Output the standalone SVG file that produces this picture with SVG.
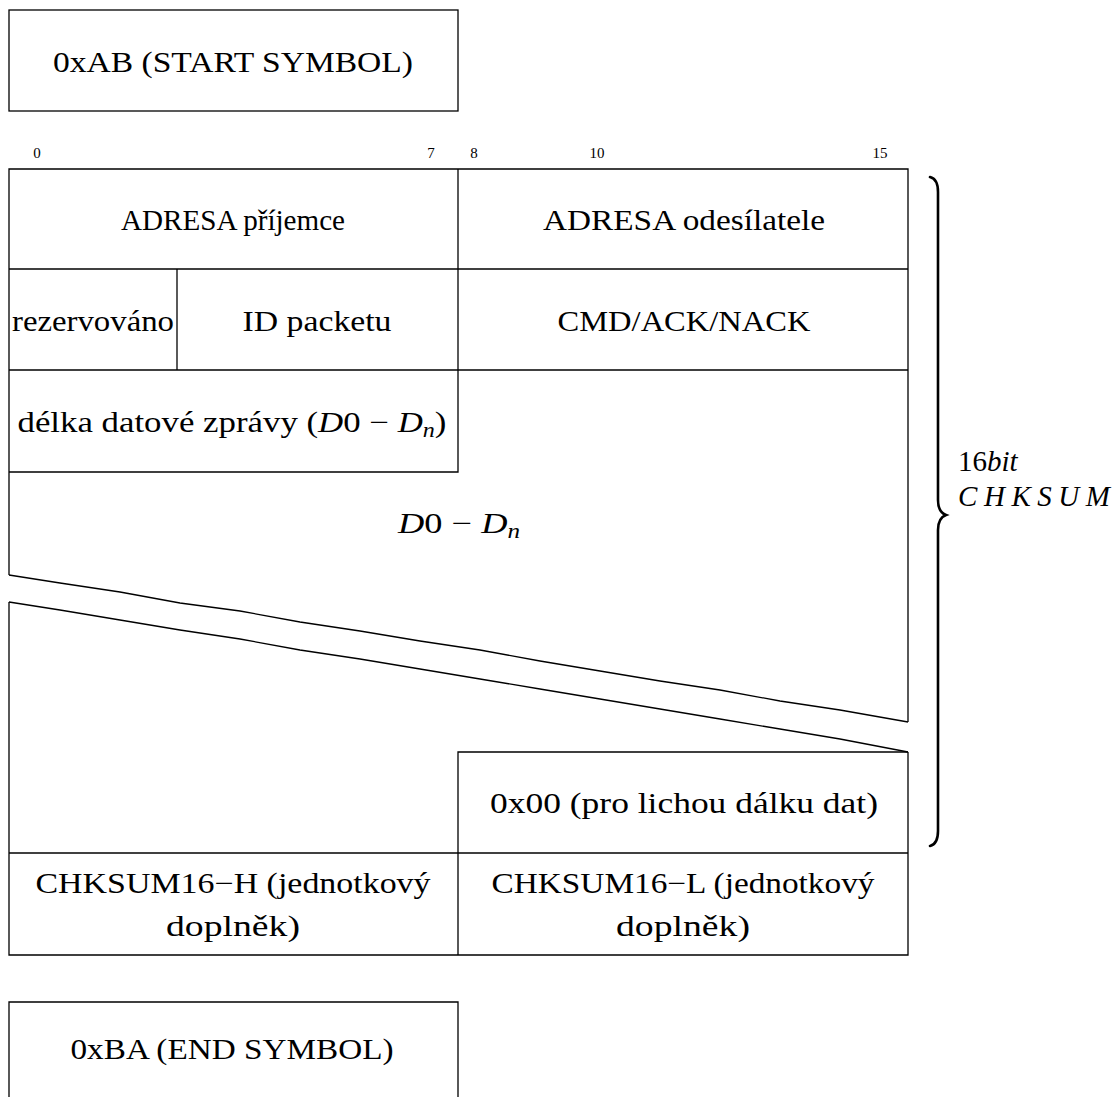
<svg xmlns="http://www.w3.org/2000/svg" width="1116" height="1097" viewBox="0 0 1116 1097" font-family="'Liberation Serif', 'Times New Roman', serif">
  <style>
    .ln { fill: none; stroke: #000; stroke-width: 1.3; }
    .t { font-family: 'Liberation Serif', 'Times New Roman', serif; font-size: 29px; fill: #000; text-anchor: middle; }
    .bit { font-family: 'Liberation Serif', 'Times New Roman', serif; font-size: 15px; fill: #000; text-anchor: middle; }
    .side { font-family: 'Liberation Serif', 'Times New Roman', serif; font-size: 29px; fill: #000; }
    .it { font-style: italic; }
    .brace { fill: none; stroke: #000; stroke-width: 2.6; stroke-linecap: round; }
  </style>
  <rect width="1116" height="1097" fill="#fff"/>

  <!-- start symbol -->
  <g id="start">
    <rect class="ln" x="9" y="10" width="449" height="101"/>
    <text class="t" x="233" y="72" textLength="360" lengthAdjust="spacingAndGlyphs">0xAB (START SYMBOL)</text>
  </g>

  <!-- bit positions -->
  <g id="bits">
    <text class="bit" x="37" y="158">0</text>
    <text class="bit" x="431" y="158">7</text>
    <text class="bit" x="474" y="158">8</text>
    <text class="bit" x="597" y="158">10</text>
    <text class="bit" x="880" y="158">15</text>
  </g>

  <!-- frame outline with cut -->
  <g id="frame">
    <path class="ln" d="M9,575 L9,169 L908,169 L908,722"/>
    <path class="ln" d="M9,575 L60,583 L120,592 L180,603 L240,611 L300,622 L360,631 L420,641 L480,650 L540,661 L600,671 L660,681 L720,690 L780,701 L840,710 L908,722"/>
    <path class="ln" d="M9,602 L60,610 L120,620 L180,630 L240,639 L300,650 L360,659 L420,669 L480,679 L540,689 L600,699 L660,709 L720,719 L780,729 L840,739 L908,752"/>
    <path class="ln" d="M9,602 L9,955 L908,955 L908,752"/>
  </g>

  <g id="addr-dst">
    <line class="ln" x1="9" y1="269" x2="458" y2="269"/>
    <text class="t" x="233" y="230" textLength="224" lengthAdjust="spacingAndGlyphs">ADRESA příjemce</text>
  </g>
  <g id="addr-src">
    <line class="ln" x1="458" y1="169" x2="458" y2="370"/>
    <line class="ln" x1="458" y1="269" x2="908" y2="269"/>
    <text class="t" x="684" y="230" textLength="282" lengthAdjust="spacingAndGlyphs">ADRESA odesílatele</text>
  </g>
  <g id="reserved">
    <line class="ln" x1="177" y1="269" x2="177" y2="370"/>
    <text class="t" x="93" y="331" textLength="162" lengthAdjust="spacingAndGlyphs">rezervováno</text>
  </g>
  <g id="packet-id">
    <text class="t" x="317" y="331" textLength="149" lengthAdjust="spacingAndGlyphs">ID packetu</text>
  </g>
  <g id="cmd">
    <line class="ln" x1="9" y1="370" x2="908" y2="370"/>
    <text class="t" x="684" y="331" textLength="253" lengthAdjust="spacingAndGlyphs">CMD/ACK/NACK</text>
  </g>
  <g id="length">
    <path class="ln" d="M458,370 L458,472 L9,472"/>
    <text class="t" x="232" y="432" textLength="429" lengthAdjust="spacingAndGlyphs">délka datové zprávy (<tspan class="it">D</tspan>0 − <tspan class="it">D</tspan><tspan class="it" font-size="20" dy="5">n</tspan><tspan dy="-5">)</tspan></text>
  </g>
  <g id="data">
    <text class="t" x="459" y="533" textLength="122" lengthAdjust="spacingAndGlyphs"><tspan class="it">D</tspan>0 − <tspan class="it">D</tspan><tspan class="it" font-size="20" dy="5">n</tspan></text>
  </g>
  <g id="padding">
    <path class="ln" d="M458,955 L458,752 L908,752"/>
    <line class="ln" x1="9" y1="853" x2="908" y2="853"/>
    <text class="t" x="684" y="813" textLength="388" lengthAdjust="spacingAndGlyphs">0x00 (pro lichou dálku dat)</text>
  </g>
  <g id="chksum-h">
    <text class="t" x="233" y="893" textLength="395" lengthAdjust="spacingAndGlyphs">CHKSUM16−H (jednotkový</text>
    <text class="t" x="233" y="936" textLength="134" lengthAdjust="spacingAndGlyphs">doplněk)</text>
  </g>
  <g id="chksum-l">
    <text class="t" x="683" y="893" textLength="383" lengthAdjust="spacingAndGlyphs">CHKSUM16−L (jednotkový</text>
    <text class="t" x="683" y="936" textLength="134" lengthAdjust="spacingAndGlyphs">doplněk)</text>
  </g>

  <!-- end symbol -->
  <g id="end">
    <path class="ln" d="M9,1100 L9,1002 L458,1002 L458,1100"/>
    <text class="t" x="232" y="1059" textLength="323" lengthAdjust="spacingAndGlyphs">0xBA (END SYMBOL)</text>
  </g>

  <!-- checksum coverage brace -->
  <g id="brace">
    <path class="brace" d="M930,177 Q938,179 938,192 L938,500 Q938,512 946,515 Q938,518 938,530 L938,831 Q938,844 930,846"/>
    <text class="side" x="958" y="471">16<tspan class="it">bit</tspan></text>
    <text class="side it" x="958" y="506" textLength="152" lengthAdjust="spacing">CHKSUM</text>
  </g>
</svg>
